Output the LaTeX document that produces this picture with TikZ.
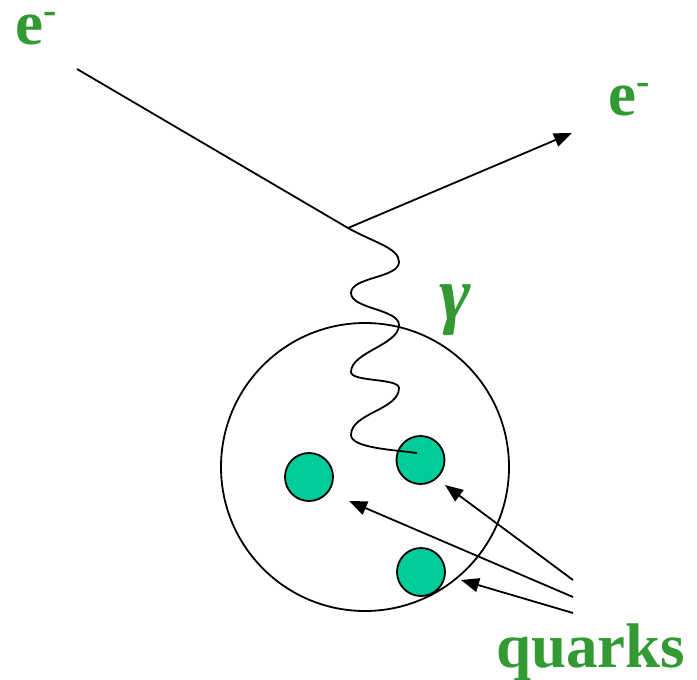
\documentclass[tikz,border=0pt]{standalone}
\usepackage{fontspec}
\setmainfont{Liberation Serif}
\usetikzlibrary{arrows.meta}
\definecolor{lblgreen}{RGB}{51,153,51}
\definecolor{quarkfill}{RGB}{0,204,153}
\newcommand{\supminus}{\raisebox{21pt}{\fontsize{40}{40}\selectfont -}}
\begin{document}
\begin{tikzpicture}[x=1pt,y=-1pt,
  lbl/.style={text=lblgreen,font=\fontsize{63}{63}\selectfont\bfseries,inner sep=0pt,anchor=base west,text height=30pt,text depth=0pt},
  ln/.style={line width=1.8pt,black},
  arr/.style={ln,-{Triangle[length=18pt,width=14pt]}},
  hadron/.style={circle,draw,line width=1.8pt,minimum size=288pt,inner sep=0pt},
  quark/.style={circle,draw,fill=quarkfill,line width=1.8pt,minimum size=48pt,inner sep=0pt}]
\useasboundingbox (0,0) rectangle (697,680);
% labels
\node[lbl] (ein) at (15,45) {e\supminus};
\node[lbl] (eout) at (608,115) {e\supminus};
\node[lbl,font=\fontsize{76}{76}\selectfont\bfseries\itshape] (gam) at (439,319) {γ};
\node[lbl] (qlbl) at (496,667) {quarks};
% hadron and quarks
\node[hadron] (had) at (365,467) {};
\node[quark] (q1) at (309,477) {};
\node[quark] (q2) at (420.5,460) {};
\node[quark] (q3) at (421,572) {};
% electron lines
\coordinate (a) at (77,69);
\coordinate (v) at (348,228);
\coordinate (b) at (572,133);
\draw[ln] (a) -- (v);
\draw[arr] (v) -- (b);
% photon
\coordinate (wend) at (417,453);
\draw[ln]
 (v) .. controls (375,243) and (399,248) .. (399,262)
     .. controls (399,278) and (351,277) .. (351,293)
     .. controls (351,309) and (399,309) .. (399,325)
     .. controls (399,345) and (351,352) .. (351,372)
     .. controls (351,382) and (399,378) .. (399,388)
     .. controls (399,410) and (351,413) .. (351,435)
     .. controls (351,448) and (395,450) .. (wend);
% quark arrows
\coordinate (s1) at (573,580);
\coordinate (s2) at (573,597);
\coordinate (s3) at (573,613);
\coordinate (t1) at (445,485);
\coordinate (t2) at (349,501);
\coordinate (t3) at (461,580);
\draw[arr] (s1) -- (t1);
\draw[arr] (s2) -- (t2);
\draw[arr] (s3) -- (t3);
\end{tikzpicture}
\end{document}
